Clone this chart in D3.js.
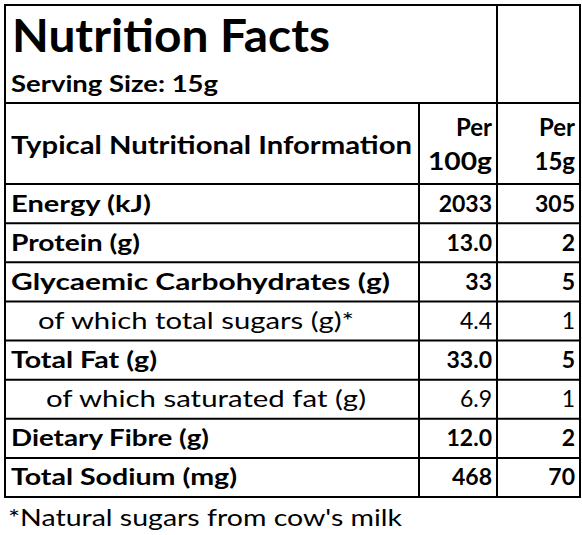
<!DOCTYPE html><html><head><meta charset="utf-8">
<script src="https://cdn.jsdelivr.net/npm/d3@7"></script>
<style>body{margin:0;background:#fff}</style></head><body>
<script>
const nutrients = ["Energy (kJ)","Protein (g)","Glycaemic Carbohydrates (g)","of which total sugars (g)*","Total Fat (g)","of which saturated fat (g)","Dietary Fibre (g)","Total Sodium (mg)"];
const per100g = ["2033","13.0","33","4.4","33.0","6.9","12.0","468"];
const per15g = ["305","2","5","1","5","1","2","70"];
const isSub = [false,false,false,true,false,true,false,false];
const indent = [0,0,0,27,0,35,0,0];
const labelLen = [140,129,379,316,146,320,198,226];

const W=582,H=535,F="Lato, 'DejaVu Sans', sans-serif";
const svg=d3.select("body").append("svg").attr("width",W).attr("height",H);
const xL=5,x1=419,x2=497,xR=580,yT=5,yH=103,yC=184;
const y=d3.scaleBand().domain(d3.range(nutrients.length)).range([yC,497]);
const ln=(a,b,c,d)=>svg.append("line").attr("x1",a).attr("y1",b).attr("x2",c).attr("y2",d).attr("stroke","#000").attr("stroke-width",2);
svg.append("rect").attr("x",xL).attr("y",yT).attr("width",xR-xL).attr("height",497-yT).attr("fill","none").attr("stroke","#000").attr("stroke-width",2);
ln(x2,yT,x2,497);ln(x1,yH,x1,497);ln(xL,yH,xR,yH);ln(xL,yC,xR,yC);
nutrients.forEach((d,i)=>{ if(i>0) ln(xL,y(i),xR,y(i)); });
const t=(x,yy,s,sz,w,anchor,len)=>{const e=svg.append("text").attr("x",x).attr("y",yy).text(s).attr("font-family",F).attr("font-size",sz).attr("font-weight",w).attr("text-anchor",anchor||"start");
 if(len) e.attr("textLength",len).attr("lengthAdjust","spacingAndGlyphs"); return e;};
t(12,52,"Nutrition Facts",46,"bold","start",318);
t(11,92,"Serving Size: 15g",22,"bold","start",207);
t(11,154,"Typical Nutritional Information",25,"bold","start",401);
t(492,136,"Per",24,"bold","end");t(492,170,"100g",24,"bold","end",64);
t(575,136,"Per",24,"bold","end");t(575,170,"15g",24,"bold","end");
nutrients.forEach((d,i)=>{
  const yy=y(i)+y.bandwidth()/2+8;
  const w=isSub[i]?"normal":"bold";
  t(11+indent[i],yy,d,23,w,"start",labelLen[i]);
  t(492,yy,per100g[i],23,w,"end");
  t(575,yy,per15g[i],23,w,"end");
});
t(8,526,"*Natural sugars from cow's milk",23,"normal","start",394);
</script></body></html>
